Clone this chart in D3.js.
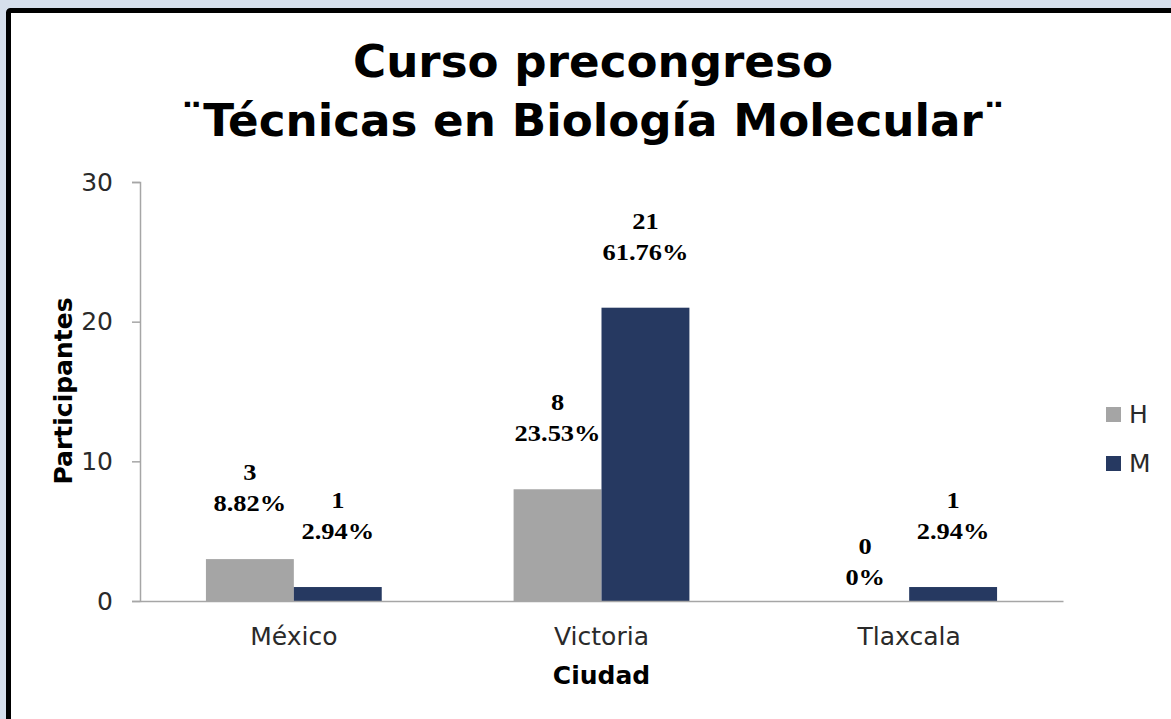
<!DOCTYPE html>
<html>
<head>
<meta charset="utf-8">
<script src="https://cdn.jsdelivr.net/npm/d3@7"></script>
<style>
  html, body { margin: 0; padding: 0; background: #ffffff; }
  .tick text { font-family: 'DejaVu Sans', sans-serif; font-weight: normal; fill: #2a2a2a; }
  .lbl { font-family: 'Liberation Serif', 'Times New Roman', serif; font-weight: bold; font-size: 23px; fill: #000; }
</style>
</head>
<body>
<div id="vis"></div>
<script>
// chart data
var categories = ['México', 'Victoria', 'Tlaxcala'];
var seriesNames = ['H', 'M'];
var hValues = [3, 8, 0];
var mValues = [1, 21, 1];
var hPercents = ['8.82%', '23.53%', '0%'];
var mPercents = ['2.94%', '61.76%', '2.94%'];
var yTicks = [0, 10, 20, 30];
var colors = {H: '#a5a5a5', M: '#263961'};

var width = 1171, height = 719;
var margin = {left: 140, right: 108, top: 182, bottom: 118};
var drawWidth = width - margin.left - margin.right,
    drawHeight = height - margin.top - margin.bottom;

var svg = d3.select('#vis').append('svg')
            .attr('width', width)
            .attr('height', height);

// light blue page behind the framed chart
svg.append('rect').attr('width', width).attr('height', height).attr('fill', '#d6dfec');
svg.append('rect')
   .attr('x', 8.5).attr('y', 10.5)
   .attr('width', width).attr('height', height)
   .attr('fill', '#ffffff')
   .attr('stroke', '#000').attr('stroke-width', 5).attr('rx', 2);

// title, sized to fit its width
var titleFont = "'DejaVu Sans', sans-serif";
var t1 = svg.append('text').attr('x', 593).attr('y', 77)
            .attr('text-anchor', 'middle')
            .style('font-family', titleFont).style('font-weight', 'bold')
            .style('font-size', '40px')
            .text('Curso precongreso');
var t2 = svg.append('text').attr('x', 593).attr('y', 136)
            .attr('text-anchor', 'middle')
            .style('font-family', titleFont).style('font-weight', 'bold')
            .style('font-size', '40px')
            .text('¨Técnicas en Biología Molecular¨');
var fit = 40 * 825 / t2.node().getComputedTextLength();
t1.style('font-size', fit + 'px');
t2.style('font-size', fit + 'px');

var g = svg.append('g').attr('transform', `translate(${margin.left}, ${margin.top})`);

var x0 = d3.scaleBand().domain(categories).range([0, drawWidth]).padding(0);
var x1 = d3.scaleBand().domain(seriesNames).range([0, x0.bandwidth()])
           .paddingInner(0).paddingOuter(0.75);
var y = d3.scaleLinear().domain([0, 30]).range([drawHeight, 0]);

var rows = categories.map((c, i) => ({
    cat: c,
    bars: [
        {key: 'H', value: hValues[i], pct: hPercents[i]},
        {key: 'M', value: mValues[i], pct: mPercents[i]}
    ]
}));

// bars
var groups = g.selectAll('.grp').data(rows).enter()
              .append('g').attr('class', 'grp')
              .attr('transform', (d) => `translate(${x0(d.cat)},0)`);

groups.selectAll('rect').data((d) => d.bars).enter()
      .append('rect')
      .attr('x', (d) => x1(d.key))
      .attr('y', (d) => y(d.value))
      .attr('width', x1.bandwidth())
      .attr('height', (d) => drawHeight - y(d.value))
      .attr('fill', (d) => colors[d.key]);

// axes
var yAxis = d3.axisLeft(y).tickValues(yTicks).tickSize(8).tickPadding(19);
var yAxisG = g.append('g').call(yAxis);
yAxisG.select('.domain').attr('stroke', '#a6a6a6').attr('stroke-width', 1.5);
yAxisG.selectAll('.tick line').attr('stroke', '#a6a6a6').attr('stroke-width', 1.5);
yAxisG.selectAll('.tick text').style('font-size', '25px');

var xAxis = d3.axisBottom(x0).tickSize(0).tickPadding(26);
var xAxisG = g.append('g').attr('transform', `translate(0, ${drawHeight})`).call(xAxis);
xAxisG.select('.domain').attr('stroke', '#a6a6a6').attr('stroke-width', 1.5);
xAxisG.selectAll('.tick text').style('font-size', '25px');

// data labels: count and percentage (slightly widened like the original)
var labels = groups.selectAll('.lbl').data((d) => d.bars).enter()
                   .append('text').attr('class', 'lbl')
                   .attr('text-anchor', 'middle')
                   .attr('transform', (d) => `translate(${x1(d.key) + x1.bandwidth() / 2},0) scale(1.15,1)`);
labels.append('tspan')
      .attr('x', 0)
      .attr('y', (d) => y(d.value) - (d.value > 0 ? 48 : 16) - 31)
      .text((d) => d.value);
labels.append('tspan')
      .attr('x', 0)
      .attr('y', (d) => y(d.value) - (d.value > 0 ? 48 : 16))
      .text((d) => d.pct);

// axis titles
svg.append('text')
   .attr('x', margin.left + drawWidth / 2).attr('y', 684)
   .attr('text-anchor', 'middle')
   .style('font-family', "'DejaVu Sans', sans-serif").style('font-weight', 'bold')
   .style('font-size', '25px')
   .text('Ciudad');
svg.append('text')
   .attr('transform', 'translate(72, 391) rotate(-90)')
   .attr('text-anchor', 'middle')
   .style('font-family', "'DejaVu Sans', sans-serif").style('font-weight', 'bold')
   .style('font-size', '25px')
   .text('Participantes');

// legend
var legend = svg.selectAll('.legend').data(seriesNames).enter()
                .append('g').attr('class', 'legend')
                .attr('transform', (d, i) => `translate(1106, ${407 + i * 49})`);
legend.append('rect').attr('width', 15).attr('height', 15)
      .attr('fill', (d) => colors[d]);
legend.append('text').attr('x', 23).attr('y', 16)
      .style('font-family', "'DejaVu Sans', sans-serif")
      .style('font-size', '25px').attr('fill', '#2a2a2a')
      .text((d) => d);
</script>
</body>
</html>
